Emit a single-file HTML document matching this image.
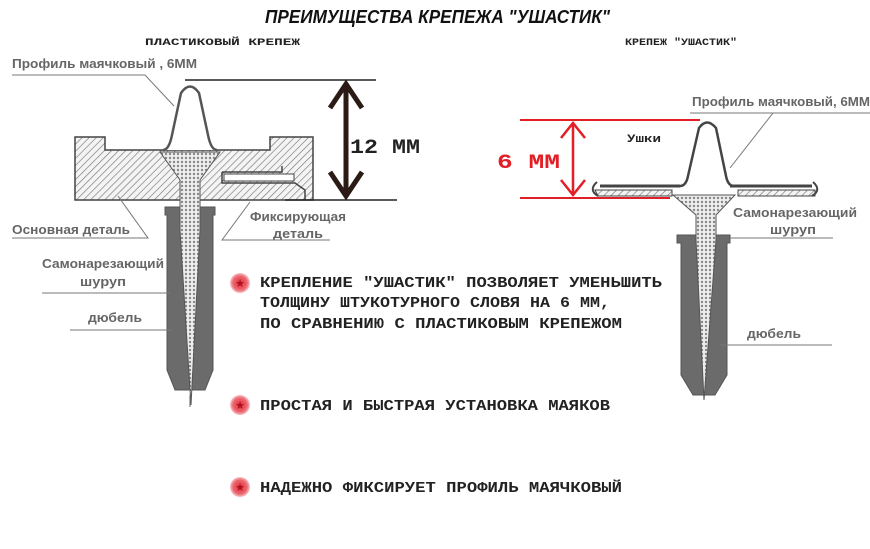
<!DOCTYPE html>
<html><head><meta charset="utf-8"><style>
html,body{margin:0;padding:0;background:#fff;}
svg{display:block;}
.s{font-family:"Liberation Sans","DejaVu Sans",sans-serif;font-weight:bold;fill:#666;font-size:12.5px;}
.m{font-family:"Liberation Mono","DejaVu Sans Mono",monospace;font-weight:bold;fill:#222;}
</style></head><body>
<svg width="870" height="549" viewBox="0 0 870 549" xmlns="http://www.w3.org/2000/svg">
<defs>
<pattern id="h" width="5" height="5" patternUnits="userSpaceOnUse" patternTransform="rotate(45)">
<rect width="5" height="5" fill="#f4f4f4"/><line x1="0" y1="0" x2="0" y2="5" stroke="#777" stroke-width="1.3"/></pattern>
<pattern id="x" width="4" height="4" patternUnits="userSpaceOnUse">
<rect width="4" height="4" fill="#eee"/><circle cx="2" cy="2" r="1.2" fill="#888"/></pattern>
<radialGradient id="rb"><stop offset="0" stop-color="#e0303a"/><stop offset="0.7" stop-color="#ec6670"/><stop offset="1" stop-color="#f7c5c8"/></radialGradient>
</defs>
<rect width="870" height="549" fill="#fff"/>
<text x="265" y="23" textLength="345" lengthAdjust="spacingAndGlyphs" font-family="Liberation Sans,sans-serif" font-weight="bold" font-style="italic" font-size="18" fill="#111">ПРЕИМУЩЕСТВА КРЕПЕЖА "УШАСТИК"</text>
<text x="145" y="45" textLength="155" lengthAdjust="spacingAndGlyphs" class="m" font-size="10">ПЛАСТИКОВЫЙ КРЕПЕЖ</text>
<text x="625" y="45" textLength="112" lengthAdjust="spacingAndGlyphs" class="m" font-size="10">КРЕПЕЖ "УШАСТИК"</text>

<!-- LEFT -->
<path d="M75,137 H105 V150 H270 V137 H313 V200 H75 Z" fill="url(#h)" stroke="#444" stroke-width="1.5"/>
<path d="M222,172 H282 V166 M222,172 V183 H295 L305,190 V200" fill="none" stroke="#444" stroke-width="1.5"/>
<rect x="224" y="174" width="70" height="7" fill="#fff" stroke="#444"/>
<path d="M163,150 Q169,150 172,135 L181,93 Q190,80 199,93 L208,135 Q211,150 217,150" fill="#fff" stroke="#555" stroke-width="2.5"/>
<path d="M165,207 H215 V215 H213 V370 L205,390 H175 L167,370 V215 H165 Z" fill="#6b6b6b" stroke="#555"/>
<path d="M160,152 H220 L200,180 V230 L191,405 L180,230 V180 Z" fill="url(#x)" stroke="#555"/>
<line x1="190" y1="395" x2="190" y2="407" stroke="#666"/>
<line x1="185" y1="80" x2="376" y2="80" stroke="#222" stroke-width="1.5"/>
<line x1="285" y1="200" x2="397" y2="200" stroke="#222" stroke-width="1.5"/>
<line x1="346" y1="88" x2="346" y2="192" stroke="#2b1a15" stroke-width="5"/>
<path d="M330,108 L346,84 L362,108" fill="none" stroke="#2b1a15" stroke-width="5"/>
<path d="M330,172 L346,196 L362,172" fill="none" stroke="#2b1a15" stroke-width="5"/>
<text x="350" y="153" textLength="70" lengthAdjust="spacingAndGlyphs" class="m" font-size="20" fill="#2b1a15">12 ММ</text>

<text x="12" y="68" class="s" textLength="185" lengthAdjust="spacingAndGlyphs">Профиль маячковый , 6ММ</text>
<path d="M12,75 H145 L174,106" fill="none" stroke="#777"/>
<text x="12" y="234" class="s" textLength="118" lengthAdjust="spacingAndGlyphs">Основная деталь</text>
<path d="M12,238 H148 L118,196" fill="none" stroke="#777"/>
<text x="250" y="221" class="s" textLength="96" lengthAdjust="spacingAndGlyphs">Фиксирующая</text>
<text x="273" y="238" class="s" textLength="50" lengthAdjust="spacingAndGlyphs">деталь</text>
<path d="M330,240 H222 L250,202" fill="none" stroke="#777"/>
<text x="42" y="268" class="s" textLength="122" lengthAdjust="spacingAndGlyphs">Самонарезающий</text>
<text x="80" y="286" class="s" textLength="46" lengthAdjust="spacingAndGlyphs">шуруп</text>
<line x1="42" y1="293" x2="170" y2="293" stroke="#777"/>
<text x="88" y="322" class="s" textLength="54" lengthAdjust="spacingAndGlyphs">дюбель</text>
<line x1="70" y1="330" x2="172" y2="330" stroke="#777"/>

<!-- RIGHT -->
<path d="M600,186 H680 M730,186 H812" stroke="#444" stroke-width="3" fill="none"/>
<path d="M595,190 H672 V196 H598 Z M738,190 H815 V196 H738 Z" fill="url(#h)" stroke="#444"/>
<path d="M597,182 Q588,190 598,196 M813,182 Q822,190 812,196" fill="none" stroke="#444" stroke-width="2"/>
<path d="M680,186 Q686,186 688,176 L699,128 Q707,117 716,128 L726,176 Q728,186 734,186" fill="#fff" stroke="#444" stroke-width="2.5"/>
<path d="M677,235 H730 V243 H727 V375 L715,395 H693 L681,375 V243 H677 Z" fill="#6b6b6b" stroke="#555"/>
<path d="M673,195 H735 L716,215 V240 L704,400 L696,240 V215 Z" fill="url(#x)" stroke="#555"/>
<line x1="520" y1="120" x2="700" y2="120" stroke="#e21e26" stroke-width="2"/>
<line x1="520" y1="198" x2="670" y2="198" stroke="#e21e26" stroke-width="2"/>
<line x1="573" y1="124" x2="573" y2="194" stroke="#e21e26" stroke-width="2.5"/>
<path d="M561,138 L573,123 L585,138 M561,180 L573,195 L585,180" fill="none" stroke="#e21e26" stroke-width="2.5"/>
<text x="497" y="168" textLength="63" lengthAdjust="spacingAndGlyphs" class="m" font-size="20" style="fill:#e21e26">6 ММ</text>
<text x="627" y="142" class="m" font-size="11" textLength="34" lengthAdjust="spacingAndGlyphs">Ушки</text>
<text x="692" y="106" class="s" textLength="178" lengthAdjust="spacingAndGlyphs">Профиль маячковый, 6ММ</text>
<path d="M690,113 H870 M773,113 L730,168" fill="none" stroke="#777"/>
<text x="733" y="217" class="s" textLength="124" lengthAdjust="spacingAndGlyphs">Самонарезающий</text>
<text x="770" y="234" class="s" textLength="46" lengthAdjust="spacingAndGlyphs">шуруп</text>
<line x1="730" y1="238" x2="833" y2="238" stroke="#777"/>
<text x="747" y="338" class="s" textLength="54" lengthAdjust="spacingAndGlyphs">дюбель</text>
<line x1="720" y1="345" x2="832" y2="345" stroke="#777"/>

<!-- bullets -->
<g>
<circle cx="240" cy="283" r="10" fill="url(#rb)"/><text x="240" y="287" text-anchor="middle" fill="#b0101a" font-size="11">★</text>
<circle cx="240" cy="405" r="10" fill="url(#rb)"/><text x="240" y="409" text-anchor="middle" fill="#b0101a" font-size="11">★</text>
<circle cx="240" cy="487" r="10" fill="url(#rb)"/><text x="240" y="491" text-anchor="middle" fill="#b0101a" font-size="11">★</text>
</g>
<g class="m" font-size="15" lengthAdjust="spacingAndGlyphs">
<text x="260" y="287" textLength="402" lengthAdjust="spacingAndGlyphs">КРЕПЛЕНИЕ "УШАСТИК" ПОЗВОЛЯЕТ УМЕНЬШИТЬ</text>
<text x="260" y="307" textLength="350" lengthAdjust="spacingAndGlyphs">ТОЛЩИНУ ШТУКОТУРНОГО СЛОВЯ НА 6 ММ,</text>
<text x="260" y="328" textLength="362" lengthAdjust="spacingAndGlyphs">ПО СРАВНЕНИЮ С ПЛАСТИКОВЫМ КРЕПЕЖОМ</text>
<text x="260" y="410" textLength="350" lengthAdjust="spacingAndGlyphs">ПРОСТАЯ И БЫСТРАЯ УСТАНОВКА МАЯКОВ</text>
<text x="260" y="492" textLength="362" lengthAdjust="spacingAndGlyphs">НАДЕЖНО ФИКСИРУЕТ ПРОФИЛЬ МАЯЧКОВЫЙ</text>
</g>
</svg>
</body></html>
